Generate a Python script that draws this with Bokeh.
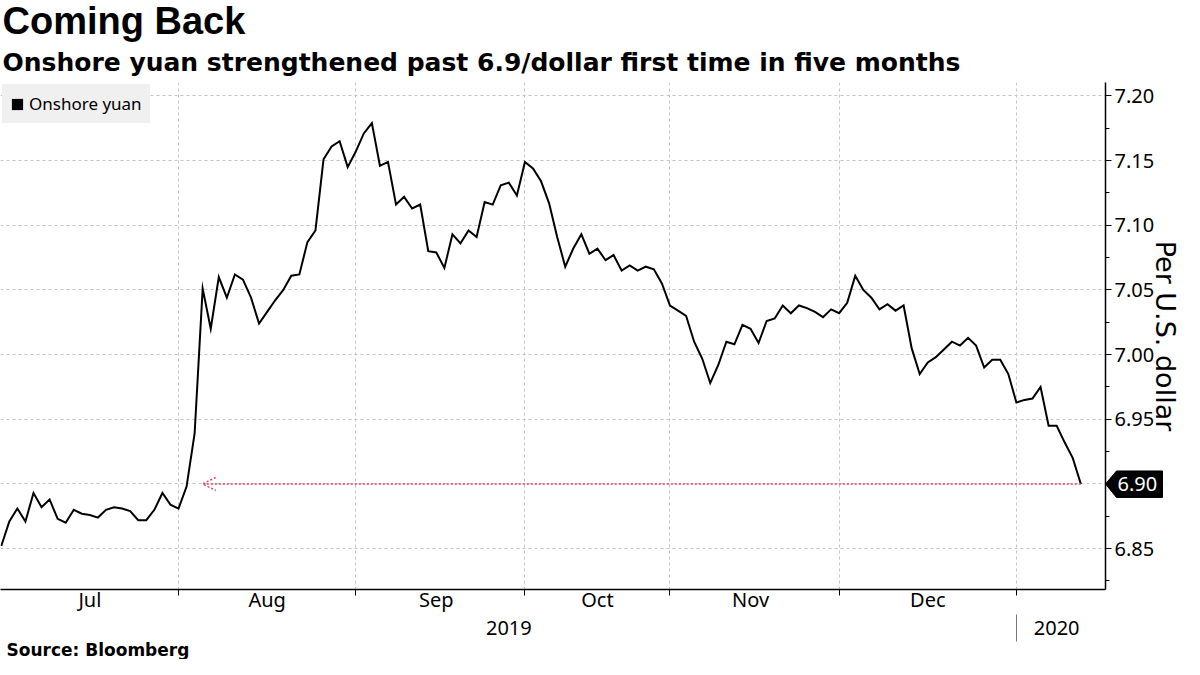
import math
from bokeh.plotting import figure
from bokeh.models import (FixedTicker, Arrow, OpenHead, LinearAxis, Legend,
                          LegendItem, Range1d, Title)
from bokeh.core.properties import value
from bokeh.embed import file_html
from bokeh.resources import INLINE

title_text = "Coming Back"
subtitle_text = "Onshore yuan strengthened past 6.9/dollar first time in five months"
source_text = "Source: Bloomberg"
series_name = "Onshore yuan"
y_axis_title = "Per U.S. dollar"

# USD/CNY onshore, one value per trading day (Jul 2019 - Jan 13 2020)
yuan = [
    6.852, 6.871, 6.881, 6.871, 6.893, 6.882, 6.888, 6.873, 6.870, 6.880,
    6.877, 6.876, 6.874, 6.880, 6.882, 6.881, 6.879, 6.872, 6.872, 6.880,
    6.893, 6.884, 6.881, 6.898, 6.939, 7.051, 7.020, 7.060, 7.044, 7.062,
    7.058, 7.044, 7.024, 7.033, 7.042, 7.050, 7.061, 7.062, 7.087, 7.096,
    7.151, 7.161, 7.165, 7.145, 7.157, 7.171, 7.179, 7.146, 7.149, 7.116,
    7.122, 7.113, 7.116, 7.080, 7.079, 7.067, 7.093, 7.086, 7.096, 7.091,
    7.118, 7.116, 7.131, 7.133, 7.123, 7.149, 7.144, 7.134, 7.117, 7.091,
    7.068, 7.082, 7.093, 7.078, 7.082, 7.073, 7.077, 7.065, 7.069, 7.065,
    7.068, 7.066, 7.055, 7.038, 7.034, 7.030, 7.010, 6.997, 6.978, 6.992,
    7.010, 7.008, 7.023, 7.020, 7.009, 7.026, 7.028, 7.038, 7.032, 7.038,
    7.036, 7.033, 7.029, 7.035, 7.032, 7.040, 7.061, 7.050, 7.044, 7.035,
    7.039, 7.034, 7.038, 7.005, 6.985, 6.994, 6.998, 7.004, 7.010, 7.007,
    7.013, 7.007, 6.990, 6.996, 6.996, 6.985, 6.963, 6.965, 6.966, 6.975,
    6.945, 6.945, 6.932, 6.920, 6.900,
]
day = list(range(len(yuan)))

months = ["Jul", "Aug", "Sep", "Oct", "Nov", "Dec"]
month_end_day = [22, 44, 65, 83, 104, 126]
years = ["2019", "2020"]
y_ticks = [6.85, 6.90, 6.95, 7.00, 7.05, 7.10, 7.15, 7.20]
y_minor = [6.825, 6.875, 6.925, 6.975, 7.025, 7.075, 7.125, 7.175]
arrow_tip_day = 25
level = 6.90

X0, X1 = -0.095, 137.06
Y0, Y1 = 6.8184, 7.2104

W, H = 1184, 659
MB_L, MB_R, MB_T, MB_B = 0, 79, 82, 70
FW, FH = W - MB_L - MB_R, H - MB_T - MB_B
px_x = (X1 - X0) / FW
px_y = (Y1 - Y0) / FH

FONT = "Noto Sans"
RED = "#e8405c"

p = figure(width=W, height=H, output_backend="svg", toolbar_location=None, title=None,
           x_range=Range1d(X0, X1), y_range=Range1d(Y0, Y1),
           y_axis_location="right",
           min_border_left=MB_L, min_border_right=MB_R,
           min_border_top=MB_T, min_border_bottom=MB_B)
p.outline_line_color = None
p.background_fill_color = "white"
p.border_fill_color = "white"

# grids
p.xgrid.ticker = FixedTicker(ticks=month_end_day)
p.ygrid.ticker = FixedTicker(ticks=y_ticks)
for g in (p.xgrid[0], p.ygrid[0]):
    g.grid_line_color = "#c4c4c4"
    g.grid_line_dash = "3 3"
    g.grid_line_width = 1

# bottom axis: month labels centred in each month, ticks at month ends
starts = [day[0]] + month_end_day[:-1]
mids = [(a + b) // 2 for a, b in zip(starts, month_end_day)]
xax = p.xaxis[0]
xax.ticker = FixedTicker(ticks=mids, minor_ticks=month_end_day)
xax.major_label_overrides = {m: n for m, n in zip(mids, months)}
xax.major_tick_out = 0
xax.major_tick_in = 0
xax.minor_tick_out = 6
xax.minor_tick_in = 0
xax.minor_tick_line_color = "black"
xax.axis_line_color = "black"
xax.axis_line_width = 1.5
xax.major_label_text_font = FONT
xax.major_label_text_font_size = "20px"
xax.major_label_text_color = "black"
xax.major_label_standoff = -10

# year axis
year_pos = [(day[0] + month_end_day[-1]) // 2, int((month_end_day[-1] + X1) / 2)]
yax2 = LinearAxis(ticker=FixedTicker(ticks=year_pos, minor_ticks=[month_end_day[-1]]),
                  major_label_overrides={v: t for v, t in zip(year_pos, years)})
yax2.axis_line_color = None
yax2.major_tick_line_color = None
yax2.major_tick_out = 0
yax2.major_tick_in = 0
yax2.minor_tick_line_color = "#777777"
yax2.minor_tick_in = 1
yax2.minor_tick_out = 26
yax2.major_label_text_font = FONT
yax2.major_label_text_font_size = "20px"
yax2.major_label_text_color = "black"
yax2.major_label_standoff = -21
p.add_layout(yax2, "below")

# source line under the axes
p.add_layout(Title(text=source_text, align="left", offset=6, standoff=0,
                   text_font="DejaVu Sans", text_font_style="bold",
                   text_font_size="17px", text_color="black"), "below")

# right axis
ya = p.yaxis[0]
ya.ticker = FixedTicker(ticks=y_ticks, minor_ticks=y_minor)
ya.major_label_overrides = {v: f"{v:.2f}" for v in y_ticks}
ya.axis_line_color = "black"
ya.axis_line_width = 1.5
ya.major_tick_out = 6
ya.major_tick_in = 0
ya.minor_tick_out = 4
ya.minor_tick_in = 0
ya.major_tick_line_color = "black"
ya.minor_tick_line_color = "black"
ya.major_label_text_font = FONT
ya.major_label_text_font_size = "20px"
ya.major_label_text_color = "black"
ya.major_label_standoff = 3
ya.axis_label = y_axis_title
ya.axis_label_text_font = "DejaVu Sans"
ya.axis_label_text_font_style = "normal"
ya.axis_label_text_font_size = "27px"
ya.axis_label_text_color = "black"
ya.axis_label_standoff = -7

# titles (subtitle first: closest to the frame)
p.add_layout(Title(text=subtitle_text, align="left", offset=2, standoff=12,
                   text_font="DejaVu Sans", text_font_style="bold",
                   text_font_size="25px", text_color="black"), "above")
p.add_layout(Title(text=title_text, align="left", offset=2, standoff=-5,
                   text_font="Liberation Sans", text_font_style="bold",
                   text_font_size="38px", text_color="black"), "above")

# the series
p.line(day, yuan, line_color="black", line_width=2, line_join="miter")

# arrow back to the 6.90 level
p.add_layout(Arrow(end=OpenHead(size=13, line_color=RED, line_width=1.5, line_dash="2 2"),
                   x_start=day[-1], y_start=level, x_end=arrow_tip_day, y_end=level,
                   line_color=RED, line_width=1.5, line_dash="2 2"))

# legend with square swatch (zero-size quad at the last point, only used for the legend)
swatch = p.quad(left=[day[-1]], right=[day[-1]], top=[yuan[-1]], bottom=[yuan[-1]],
                fill_color="black", line_alpha=0)
legend = Legend(items=[LegendItem(label=series_name, renderers=[swatch])],
                location="top_left", margin=2, padding=7, spacing=0,
                background_fill_color="#f0f0f0", background_fill_alpha=1,
                border_line_color="#f0f0f0", border_line_width=1,
                glyph_width=14, glyph_height=14,
                label_standoff=5, label_text_font=FONT, label_text_font_size="17px",
                label_text_color="black", label_text_baseline="middle")
p.add_layout(legend)

# last-value tag on the right axis
tag_x = [X1 + 0 * px_x, X1 + 11 * px_x, X1 + 57 * px_x, X1 + 57 * px_x, X1 + 11 * px_x]
tag_y = [yuan[-1], yuan[-1] + 13 * px_y, yuan[-1] + 13 * px_y,
         yuan[-1] - 13.5 * px_y, yuan[-1] - 13.5 * px_y]
p.patch(tag_x, tag_y, fill_color="black", line_color="black", level="overlay")
p.text(x=[X1 + 12 * px_x], y=[yuan[-1]], text=[f"{yuan[-1]:.2f}"], text_color="white",
       text_font=value(FONT), text_font_size="20px", text_baseline="middle",
       text_align="left", level="overlay")

open("out.html", "w").write(file_html(p, INLINE))
